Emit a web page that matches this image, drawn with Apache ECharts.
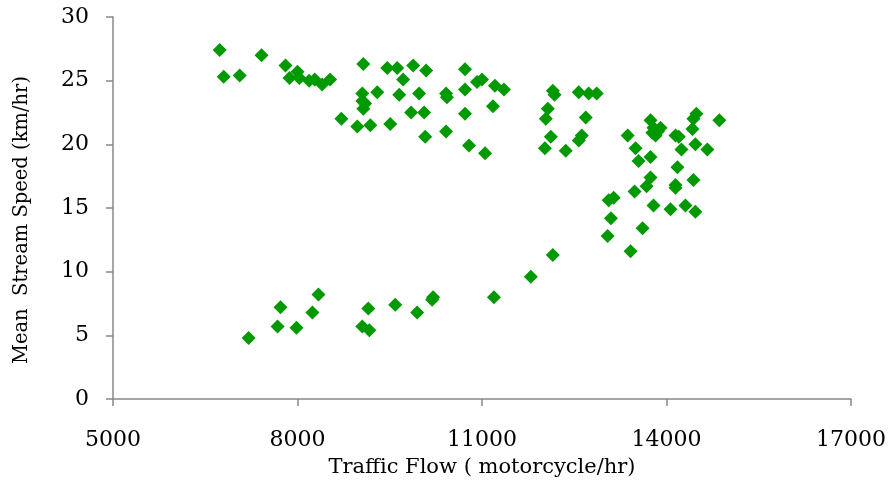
<!DOCTYPE html>
<html><head><meta charset="utf-8">
<script src="https://cdn.jsdelivr.net/npm/echarts@6/dist/echarts.min.js"></script>
<style>html,body{margin:0;padding:0;background:#fff}#c{width:892px;height:489px}</style>
</head><body><div id="c"></div>
<script>
const flowValues = [6735,6800,7060,7416,7805,7870,8000,8030,8190,8400,8530,9070,8713,8973,9184,9054,9054,9070,9100,9297,9508,9459,9621,9718,9654,9881,10092,9978,9848,10059,10076,10416,10430,10416,10724,10724,10724,10789,10919,11000,11050,11210,11178,11357,12151,12180,12070,12038,12119,12022,12362,12573,12735,12865,12687,12622,12573,13368,13497,13546,13740,13740,13789,13822,13903,14146,14200,14243,14470,14665,14486,14438,14422,14859,14178,13740,13676,13481,14146,14146,14438,13141,13060,13789,14065,14308,14470,13097,13043,13611,13416,7205,7676,7724,7984,8243,8341,9054,9168,9151,9589,9946,10189,10205,11194,11794,12151,13770,8280,13860];
const speedValues = [27.4,25.3,25.4,27.0,26.2,25.2,25.7,25.2,25.0,24.7,25.1,26.3,22.0,21.4,21.5,24.0,23.4,22.8,23.2,24.1,21.6,26.0,26.0,25.1,23.9,26.2,25.8,24.0,22.5,22.5,20.6,24.0,23.7,21.0,25.9,24.3,22.4,19.9,24.9,25.1,19.3,24.6,23.0,24.3,24.2,23.9,22.8,22.0,20.6,19.7,19.5,24.1,24.0,24.0,22.1,20.7,20.3,20.7,19.7,18.7,19.0,21.9,21.3,20.7,21.3,20.7,20.6,19.6,20.0,19.6,22.4,22.0,21.2,21.9,18.2,17.4,16.7,16.3,16.8,16.6,17.2,15.8,15.6,15.2,14.9,15.2,14.7,14.2,12.8,13.4,11.6,4.8,5.7,7.2,5.6,6.8,8.2,5.7,5.4,7.1,7.4,6.8,7.8,8.0,8.0,9.6,11.3,20.9,25.1,21.0];
const xTitle = 'Traffic Flow ( motorcycle/hr)';
const yTitle = 'Mean  Stream Speed (km/hr)';
const points = flowValues.map((x, i) => [x, speedValues[i]]);
const chart = echarts.init(document.getElementById('c'));
const font = 'DejaVu Serif';
chart.setOption({
  animation: false,
  grid: {left: 113, right: 41, top: 17, bottom: 90},
  xAxis: {
    type: 'value', min: 5000, max: 17000, interval: 3000,
    name: xTitle, nameLocation: 'middle', nameGap: 58,
    nameTextStyle: {fontFamily: font, fontSize: 21, color: '#000'},
    axisLine: {show: true, lineStyle: {color: '#888', width: 1.5}},
    axisTick: {show: true, length: 7, lineStyle: {color: '#888', width: 1.5}},
    axisLabel: {fontFamily: font, fontSize: 22, color: '#000', margin: 30, formatter: v => String(v)},
    splitLine: {show: false}
  },
  yAxis: {
    type: 'value', min: 0, max: 30, interval: 5,
    name: yTitle, nameLocation: 'middle', nameGap: 81,
    nameTextStyle: {fontFamily: font, fontSize: 19.5, color: '#000', padding: [0, 24, 0, 0]},
    axisLine: {show: true, lineStyle: {color: '#888', width: 1.5}},
    axisTick: {show: true, length: 7, lineStyle: {color: '#888', width: 1.5}},
    axisLabel: {fontFamily: font, fontSize: 22, color: '#000', margin: 24},
    splitLine: {show: false}
  },
  series: [{
    type: 'scatter', symbol: 'diamond', symbolSize: 14,
    itemStyle: {color: '#009900', opacity: 1},
    data: points
  }]
});
</script></body></html>
